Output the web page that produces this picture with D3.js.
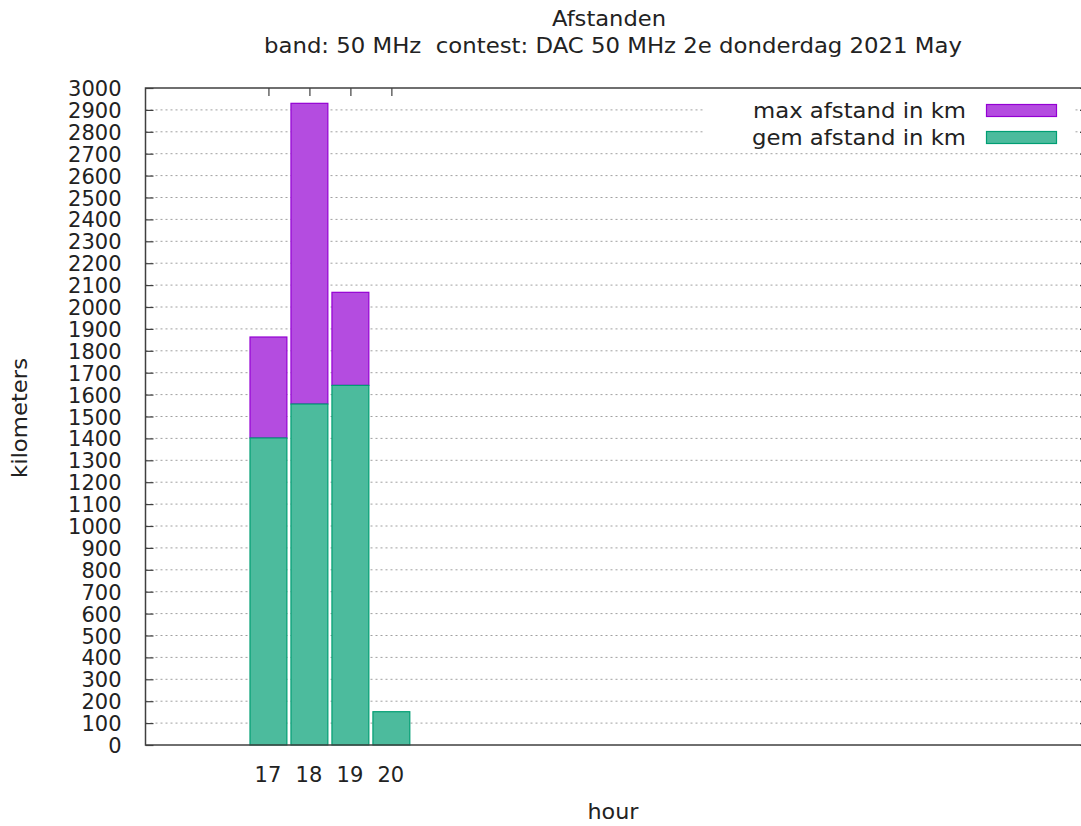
<!DOCTYPE html>
<html>
<head>
<meta charset="utf-8">
<script src="https://cdn.jsdelivr.net/npm/d3@7"></script>
<style>
  html, body { margin: 0; padding: 0; background: #fff; overflow: hidden; }
  svg { display: block; }
  text { font-family: "DejaVu Sans", sans-serif; fill: #222; white-space: pre; }
</style>
</head>
<body>
<svg id="chart" width="1081" height="826"></svg>
<script>
// ---- data ----
const hours = [17, 18, 19, 20];
const maxAfstand = [1863, 2930, 2067, 152];
const gemAfstand = [1402, 1557, 1642, 152];
const yTicks = d3.range(0, 3001, 100);
const seriesNames = ["max afstand in km", "gem afstand in km"];
const titleLine1 = "Afstanden";
const titleLine2 = "band: 50 MHz  contest: DAC 50 MHz 2e donderdag 2021 May";
const xLabel = "hour";
const yLabel = "kilometers";

// ---- layout ----
const plot = { left: 145.5, right: 1088, top: 88, bottom: 745 };
const colMax = "#9400d3", fillMax = "#b44ce0";
const colGem = "#009e73", fillGem = "#4cbb9d";
const axisCol = "#404040";

const svg = d3.select("#chart");

const x = d3.scaleLinear().domain([14, 37]).range([plot.left, plot.right]);
const y = d3.scaleLinear().domain([0, 3000]).range([plot.bottom, plot.top]);

// grid lines
svg.append("g").selectAll("line").data(yTicks.filter(d => d > 0 && d < 3000)).join("line")
  .attr("x1", plot.left).attr("x2", plot.right)
  .attr("y1", d => y(d)).attr("y2", d => y(d))
  .attr("stroke", "#a0a0a0").attr("stroke-width", 1)
  .attr("stroke-dasharray", "2,3");

// left y axis ticks (inward) + labels
const yAxisL = d3.axisLeft(y).tickValues(yTicks).tickSize(-8).tickPadding(24).tickFormat(d3.format("d"));
const gL = svg.append("g").attr("transform", `translate(${plot.left},0)`).call(yAxisL);
gL.select(".domain").remove();
gL.selectAll(".tick line").attr("stroke", axisCol).attr("stroke-width", 1.2);
gL.selectAll(".tick text").attr("font-size", 21).attr("fill", "#222")
  .style("font-family", "'DejaVu Sans', sans-serif").attr("dy", "0.36em");

// right mirror ticks
const yAxisR = d3.axisRight(y).tickValues(yTicks).tickSize(-8).tickFormat("");
const gR = svg.append("g").attr("transform", `translate(${plot.right},0)`).call(yAxisR);
gR.select(".domain").remove();
gR.selectAll(".tick line").attr("stroke", axisCol).attr("stroke-width", 1.2);

// top mirror x ticks
const xAxisT = d3.axisTop(x).tickValues(hours).tickSize(-8).tickFormat("");
const gT = svg.append("g").attr("transform", `translate(0,${plot.top})`).call(xAxisT);
gT.select(".domain").remove();
gT.selectAll(".tick line").attr("stroke", axisCol).attr("stroke-width", 1.2);

// bottom x ticks + labels
const xAxisB = d3.axisBottom(x).tickValues(hours).tickSize(-8).tickPadding(22).tickFormat(d3.format("d"));
const gB = svg.append("g").attr("transform", `translate(0,${plot.bottom})`).call(xAxisB);
gB.select(".domain").remove();
gB.selectAll(".tick line").attr("stroke", axisCol).attr("stroke-width", 1.2);
gB.selectAll(".tick text").attr("font-size", 21).attr("fill", "#222").attr("dx", "-1")
  .style("font-family", "'DejaVu Sans', sans-serif");

// bars
const bw = x(14.9) - x(14);
const data = hours.map((h, i) => ({ h, max: maxAfstand[i], gem: gemAfstand[i] }));
const bars = svg.append("g");
bars.selectAll("rect.max").data(data.filter(d => d.max > d.gem)).join("rect")
  .attr("class", "max")
  .attr("x", d => x(d.h) - bw / 2).attr("width", bw)
  .attr("y", d => y(d.max)).attr("height", d => y(d.gem) - y(d.max))
  .attr("fill", fillMax).attr("stroke", colMax).attr("stroke-width", 1.2);
bars.selectAll("rect.gem").data(data).join("rect")
  .attr("class", "gem")
  .attr("x", d => x(d.h) - bw / 2).attr("width", bw)
  .attr("y", d => y(d.gem)).attr("height", d => y(0) - y(d.gem))
  .attr("fill", fillGem).attr("stroke", colGem).attr("stroke-width", 1.2);

// legend (opaque key box)
const key = svg.append("g");
key.append("rect").attr("x", 705).attr("y", 96).attr("width", 369).attr("height", 52).attr("fill", "#fff");
const keyItems = [
  { name: seriesNames[0], fill: fillMax, stroke: colMax, yc: 110.5, w: 213 },
  { name: seriesNames[1], fill: fillGem, stroke: colGem, yc: 137.5, w: 214 }
];
keyItems.forEach(k => {
  key.append("text").attr("x", 966).attr("y", k.yc).attr("dy", "0.36em")
    .attr("text-anchor", "end").attr("font-size", 22)
    .attr("textLength", k.w).attr("lengthAdjust", "spacingAndGlyphs").text(k.name);
  key.append("rect").attr("x", 986.5).attr("y", k.yc - 6).attr("width", 70).attr("height", 12)
    .attr("fill", k.fill).attr("stroke", k.stroke).attr("stroke-width", 1.2);
});

// border
svg.append("rect").attr("x", plot.left).attr("y", plot.top)
  .attr("width", plot.right - plot.left).attr("height", plot.bottom - plot.top)
  .attr("fill", "none").attr("stroke", axisCol).attr("stroke-width", 1.5);

// titles
svg.append("text").attr("x", 609).attr("y", 26).attr("text-anchor", "middle")
  .attr("font-size", 22).attr("textLength", 114).attr("lengthAdjust", "spacingAndGlyphs")
  .text(titleLine1);
svg.append("text").attr("x", 613).attr("y", 53).attr("text-anchor", "middle")
  .attr("font-size", 22).attr("textLength", 698).attr("lengthAdjust", "spacingAndGlyphs")
  .text(titleLine2);

// axis labels
svg.append("text").attr("x", 613).attr("y", 819).attr("text-anchor", "middle")
  .attr("font-size", 22).attr("textLength", 51).attr("lengthAdjust", "spacingAndGlyphs")
  .text(xLabel);
svg.append("text").attr("transform", "translate(27,418) rotate(-90)").attr("text-anchor", "middle")
  .attr("font-size", 22).attr("textLength", 120).attr("lengthAdjust", "spacingAndGlyphs")
  .text(yLabel);
</script>
</body>
</html>
